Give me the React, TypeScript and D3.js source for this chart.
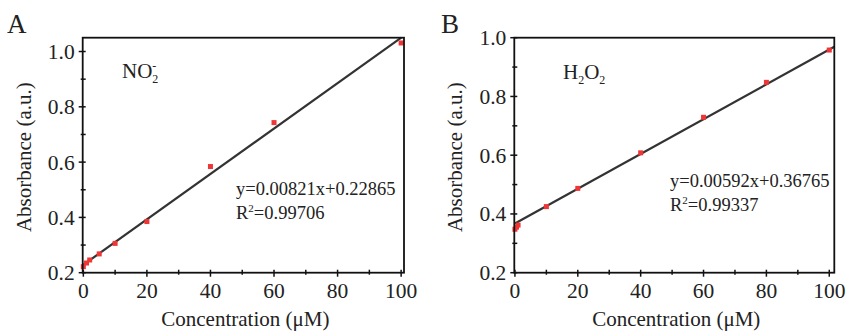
import React from "react";
import * as d3 from "d3";

const xA = [0, 1, 2, 5, 10, 20, 40, 60, 100];
const yA = [0.222, 0.235, 0.246, 0.268, 0.306, 0.385, 0.584, 0.743, 1.031];
const xB = [0, 0.5, 1, 10, 20, 40, 60, 80, 100];
const yB = [0.348, 0.355, 0.362, 0.425, 0.487, 0.608, 0.729, 0.848, 0.958];
const xTicks = [0, 20, 40, 60, 80, 100];
const yTicks = [0.2, 0.4, 0.6, 0.8, 1.0];
const fitA = { slope: 0.00821, intercept: 0.22865, eq: "y=0.00821x+0.22865", r2: "=0.99706" };
const fitB = { slope: 0.00592, intercept: 0.36765, eq: "y=0.00592x+0.36765", r2: "=0.99337" };

const FONT = "'Times New Roman', 'Liberation Serif', 'DejaVu Serif', serif";

type PanelProps = {
  letter: string;
  left: number; right: number; top: number; bottom: number;
  xDomain: [number, number]; yDomain: [number, number];
  xs: number[]; ys: number[];
  fit: typeof fitA;
  label: React.ReactNode;
  labelX: number; labelY: number;
  eqX: number; eqY: number;
  letterX: number; letterY: number;
};

function Panel(p: PanelProps) {
  const x = d3.scaleLinear().domain(p.xDomain).range([p.left, p.right]);
  const y = d3.scaleLinear().domain(p.yDomain).range([p.bottom, p.top]);
  const minorX = d3.range(10, 100, 20);
  const minorY = [0.3, 0.5, 0.7, 0.9];
  const x1 = 0;
  const x2 = Math.min(p.xDomain[1], (p.yDomain[1] - p.fit.intercept) / p.fit.slope);
  const line = d3.line<number>().x((d) => x(d)).y((d) => y(p.fit.slope * d + p.fit.intercept));
  return (
    <g style={{ fontFamily: FONT }} fill="#222">
      <text x={p.letterX} y={p.letterY} fontSize={27}>{p.letter}</text>
      {xTicks.map((t) => (
        <g key={"x" + t}>
          <line x1={x(t)} x2={x(t)} y1={p.bottom - 3} y2={p.bottom + 4} stroke="#111" strokeWidth={1.5} />
          <text x={x(t)} y={p.bottom + 25} fontSize={21.5} textAnchor="middle">{t}</text>
        </g>
      ))}
      {minorX.map((t) => (
        <line key={"mx" + t} x1={x(t)} x2={x(t)} y1={p.bottom - 3} y2={p.bottom + 2} stroke="#111" strokeWidth={1.5} />
      ))}
      {yTicks.filter((t) => t <= p.yDomain[1] + 1e-9).map((t) => (
        <g key={"y" + t}>
          <line x1={p.left - 4} x2={p.left + 3} y1={y(t)} y2={y(t)} stroke="#111" strokeWidth={1.5} />
          <text x={p.left - 8} y={y(t) + 7.5} fontSize={21.5} textAnchor="end">{t.toFixed(1)}</text>
        </g>
      ))}
      {minorY.filter((t) => t <= p.yDomain[1]).map((t) => (
        <line key={"my" + t} x1={p.left - 2} x2={p.left + 3} y1={y(t)} y2={y(t)} stroke="#111" strokeWidth={1.5} />
      ))}
      <path d={line([x1, x2]) || ""} stroke="#333" strokeWidth={2.2} fill="none" />
      {p.xs.map((xv, i) => (
        <rect key={i} x={x(xv) - 2.5} y={y(p.ys[i]) - 2.5} width={5} height={5} fill="#f03535" />
      ))}
      <rect x={p.left} y={p.top} width={p.right - p.left} height={p.bottom - p.top} fill="none" stroke="#111" strokeWidth={1.8} />
      <text x={p.labelX} y={p.labelY} fontSize={21}>{p.label}</text>
      <text x={p.eqX} y={p.eqY} fontSize={18.5}>{p.fit.eq}</text>
      <text x={p.eqX} y={p.eqY + 24} fontSize={18.5}>
        R<tspan fontSize={11} dy={-7}>2</tspan><tspan dy={7}>{p.fit.r2}</tspan>
      </text>
      <text x={(p.left + p.right) / 2 + 2} y={326} fontSize={21} textAnchor="middle">Concentration (μM)</text>
      <text transform={`translate(${p.left - 52},${(p.top + p.bottom) / 2 + 2}) rotate(-90)`} fontSize={21} textAnchor="middle">Absorbance (a.u.)</text>
    </g>
  );
}

export default function App() {
  return (
    <svg width={849} height={333} style={{ position: "absolute", left: 0, top: 0, background: "#fff" }}>
      <rect width={849} height={333} fill="#fff" />
      <Panel
        letter="A" letterX={7} letterY={33}
        left={82.7} right={404} top={37.7} bottom={272.7}
        xDomain={[-0.2, 100.9]} yDomain={[0.2, 1.05]}
        xs={xA} ys={yA} fit={fitA}
        label={<>NO<tspan fontSize={12} dy={5}>2</tspan><tspan fontSize={12} dx={-6} dy={-13}>-</tspan></>}
        labelX={122} labelY={78}
        eqX={236} eqY={195}
      />
      <Panel
        letter="B" letterX={441} letterY={33}
        left={514.3} right={834.3} top={37.7} bottom={272.7}
        xDomain={[-0.2, 101.6]} yDomain={[0.2, 1.0]}
        xs={xB} ys={yB} fit={fitB}
        label={<>H<tspan fontSize={12} dy={5}>2</tspan><tspan dy={-5}>O</tspan><tspan fontSize={12} dy={5}>2</tspan></>}
        labelX={563} labelY={79}
        eqX={670} eqY={187}
      />
    </svg>
  );
}
